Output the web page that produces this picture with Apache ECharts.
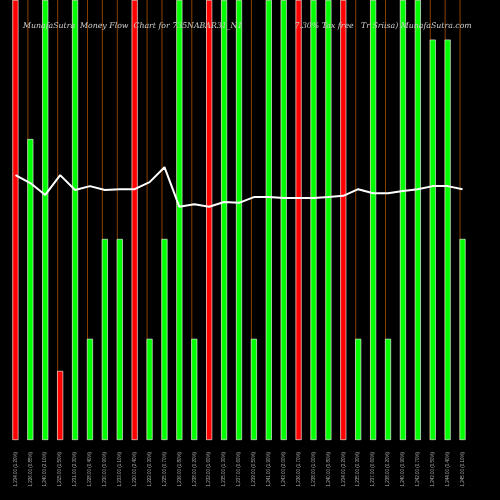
<!DOCTYPE html>
<html><head><meta charset="utf-8">
<script src="https://cdn.jsdelivr.net/npm/echarts@6/dist/echarts.min.js"></script>
<style>html,body{margin:0;background:#000}#c{width:500px;height:500px}</style></head>
<body><div id="c"></div>
<script>
const categories = ["1,234.00 (1.20%)","1,226.00 (0.85%)","1,240.00 (2.10%)","1,215.00 (1.50%)","1,231.00 (2.30%)","1,228.00 (0.40%)","1,230.00 (0.90%)","1,233.00 (1.10%)","1,220.00 (2.40%)","1,222.00 (0.30%)","1,225.00 (0.70%)","1,236.00 (1.80%)","1,238.00 (0.20%)","1,232.00 (1.60%)","1,235.00 (1.30%)","1,237.00 (0.60%)","1,239.00 (0.50%)","1,241.00 (1.90%)","1,243.00 (2.00%)","1,236.00 (1.70%)","1,238.00 (1.00%)","1,240.00 (0.80%)","1,234.00 (2.20%)","1,235.00 (0.30%)","1,237.00 (0.60%)","1,238.00 (0.20%)","1,240.00 (0.90%)","1,242.00 (0.70%)","1,243.00 (0.50%)","1,244.00 (0.40%)","1,245.00 (0.10%)"];
const barValues = [100,68.4,100,15.7,100,23,45.7,45.7,100,23,45.7,100,23,100,100,100,23,100,100,100,100,100,100,23,100,23,100,100,91,91,45.7];
const barUp = [0,1,1,0,1,1,1,1,0,1,1,1,1,0,1,1,1,1,1,0,1,1,0,1,1,1,1,1,1,1,1];
const flowLine = [60.2,58.4,55.7,60.2,56.8,57.7,56.8,57.0,57.0,58.6,62.0,53.0,53.6,53.0,54.1,53.9,55.2,55.2,55.0,55.0,55.0,55.2,55.5,57.0,56.1,56.1,56.6,57.0,57.7,57.7,57.0];
const wickValues = categories.map(()=>100);
const chart = echarts.init(document.getElementById('c'));
chart.setOption({
  backgroundColor:'#000',animation:false,
  title:{text:'MunafaSutra  Money Flow  Chart for 735NABAR31_N1                     7.30% Tax free   Tr Sriisa) MunafaSutra.com',left:18,top:17,textStyle:{color:'#ccc',fontSize:7.8,fontStyle:'italic',fontWeight:'normal',fontFamily:'DejaVu Serif'}},
  grid:{left:8,right:30,top:0,bottom:60},
  xAxis:{type:'category',data:categories,axisLine:{show:false},axisTick:{show:false},splitLine:{show:false},
    axisLabel:{rotate:90,fontSize:4.5,color:'#aaa',margin:12,interval:0}},
  yAxis:{type:'value',min:0,max:100,show:false,splitLine:{show:false}},
  series:[
    {type:'bar',barWidth:1,z:1,data:wickValues,itemStyle:{color:'#8B4000'}},
    {type:'bar',barWidth:6,barGap:'-100%',z:2,data:barValues.map((v,i)=>({value:v,itemStyle:{color:barUp[i]?'#00ff00':'#ff0000',borderColor:'#fff',borderWidth:0.6}}))},
    {type:'line',data:flowLine,symbol:'none',z:3,lineStyle:{color:'#fff',width:2}}
  ]
});
</script></body></html>
